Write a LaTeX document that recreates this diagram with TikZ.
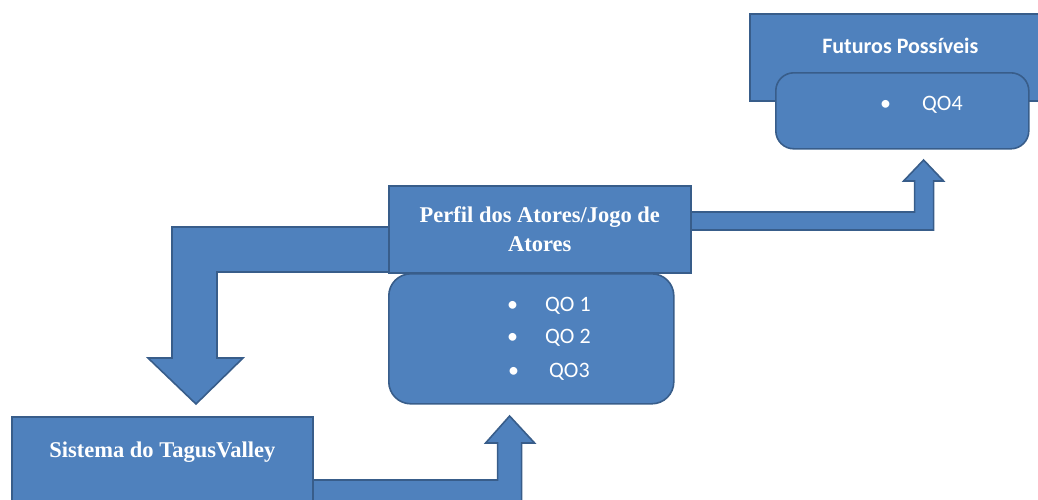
\documentclass[tikz,border=0pt]{standalone}
\usepackage{fontspec}
\setmainfont{Liberation Serif}
\newfontfamily\calibri{Carlito}
\usetikzlibrary{positioning,calc,backgrounds}

\definecolor{boxblue}{HTML}{4F81BD}
\definecolor{boxline}{HTML}{385D8A}

\tikzset{
  panel/.style={draw=boxline,line width=1.6pt,fill=boxblue,anchor=north west,inner sep=0pt},
  qobox/.style={panel,rounded corners=22pt},
  blockarrow/.style={draw=boxline,line width=1.6pt,fill=boxblue,line join=miter},
  serifhead/.style={text=white,font=\bfseries\fontsize{22.5}{29}\selectfont,align=center},
  sanshead/.style={text=white,font=\calibri\bfseries\fontsize{22}{26}\selectfont},
  qoitem/.style={text=white,font=\calibri\fontsize{22}{26}\selectfont,anchor=west,inner sep=0pt},
}

\begin{document}
\begin{tikzpicture}[x=1pt,y=-1pt]
\useasboundingbox (0,0) rectangle (1038,499);

% Futuros
\node[panel,minimum width=301pt,minimum height=87pt] (futuros) at (749,13) {};
\node[sanshead,below=33pt of futuros.north,anchor=center] (futurostxt) {Futuros Possíveis};
\node[qobox,minimum width=253pt,minimum height=76pt,rounded corners=18pt] (futurosqo) at (775,72) {};
\node[qoitem] (qod) at (880,105) {•\hspace{31pt}QO4};

% Perfil
\node[panel,minimum width=302pt,minimum height=87pt,serifhead] (perfil) at (388,185) {Perfil dos Atores/Jogo de\\Atores};
\node[qobox,minimum width=285pt,minimum height=130pt] (perfilqo) at (388,273) {};
\node[qoitem] (qoa) at (507,306) {•\hspace{27pt}QO 1};
\node[qoitem] (qob) at (507,338) {•\hspace{27pt}QO 2};
\node[qoitem] (qoc) at (508,372) {•\hspace{30pt}QO3};

% Sistema
\node[panel,minimum width=301pt,minimum height=110pt] (sistema) at (11,416) {};
\node[serifhead,below=36pt of sistema.north,anchor=center] (sistematxt) {Sistema do TagusValley};

% bent arrows
\begin{scope}[on background layer]
\draw[blockarrow] ($(sistema.north east)+(-10,64)$) -- ++(194,0) -- ++(0,-37) -- ++(-12,0)
  -- ++(24,-27) -- ++(25,27) -- ++(-13,0) -- ++(0,61) -- ++(-218,0) -- cycle;
\draw[blockarrow] ($(perfil.north west)+(10,42)$) -- ++(-226,0) -- ++(0,131) -- ++(-24,0)
  -- ++(48,46) -- ++(47,-46) -- ++(-26,0) -- ++(0,-86) -- ++(181,0) -- cycle;
\draw[blockarrow] ($(perfil.north east)+(-10,27)$) -- ++(233,0) -- ++(0,-31) -- ++(-11,0)
  -- ++(20,-21) -- ++(20,21) -- ++(-10,0) -- ++(0,49) -- ++(-252,0) -- cycle;
\end{scope}

\end{tikzpicture}
\end{document}
